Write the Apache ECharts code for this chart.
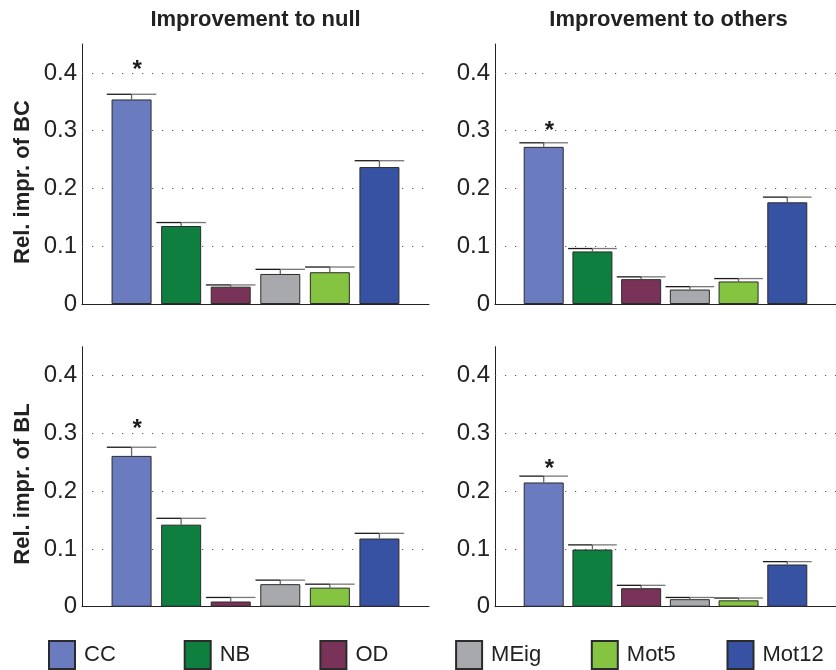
<!DOCTYPE html>
<html>
<head>
<meta charset="utf-8">
<script src="https://cdn.jsdelivr.net/npm/echarts@6/dist/echarts.min.js"></script>
<style>
  html, body { margin: 0; padding: 0; background: #fff; }
  #chart { width: 836px; height: 670px; }
</style>
</head>
<body>
<div id="chart"></div>
<script>
// Methods compared and their colours
const methods = ['CC', 'NB', 'OD', 'MEig', 'Mot5', 'Mot12'];
const methodColors = ['#6a7bbf', '#0e7f3e', '#7a3358', '#a7a9ac', '#84c441', '#3852a3'];

// Relative improvement of BC (mean and upper error)
const bcNull = [0.354, 0.135, 0.030, 0.052, 0.055, 0.237];
const bcNullErr = [0.009, 0.006, 0.003, 0.008, 0.009, 0.011];
const bcOthers = [0.272, 0.091, 0.043, 0.025, 0.039, 0.176];
const bcOthersErr = [0.007, 0.005, 0.004, 0.005, 0.005, 0.009];

// Relative improvement of BL (mean and upper error)
const blNull = [0.261, 0.142, 0.009, 0.039, 0.033, 0.118];
const blNullErr = [0.015, 0.011, 0.007, 0.007, 0.006, 0.009];
const blOthers = [0.215, 0.099, 0.032, 0.013, 0.011, 0.073];
const blOthersErr = [0.011, 0.008, 0.005, 0.003, 0.004, 0.005];

// Height of the significance marker above CC in each panel
const starLevel = [0.413, 0.308, 0.316, 0.246];

// Axis ticks and labels
const yTicks = [0.1, 0.2, 0.3, 0.4];
const colTitles = ['Improvement to null', 'Improvement to others'];
const rowLabels = ['Rel. impr. of BC', 'Rel. impr. of BL'];

const FONT = '"Liberation Sans", Arial, Helvetica, sans-serif';
const categories = [''].concat(methods, ['']);

const panels = [
  { values: bcNull, errors: bcNullErr, star: starLevel[0], left: 82, top: 44 },
  { values: bcOthers, errors: bcOthersErr, star: starLevel[1], left: 495, top: 44 },
  { values: blNull, errors: blNullErr, star: starLevel[2], left: 82, top: 346.7 },
  { values: blOthers, errors: blOthersErr, star: starLevel[3], left: 495, top: 346.7 }
];
const PANEL_W = 347, PANEL_H = 260;

const grid = [], xAxis = [], yAxis = [], series = [];

panels.forEach((p, pi) => {
  grid.push({ left: p.left, top: p.top, width: PANEL_W, height: PANEL_H, containLabel: false });
  xAxis.push({
    type: 'category', gridIndex: pi, data: categories, boundaryGap: false,
    axisLine: { show: true, lineStyle: { color: '#222', width: 1 } },
    axisTick: { show: false }, axisLabel: { show: false }, splitLine: { show: false }
  });
  yAxis.push({
    type: 'value', gridIndex: pi, min: 0, max: 0.45, interval: 0.1,
    axisLine: { show: true, lineStyle: { color: '#222', width: 1 } },
    axisTick: { show: false },
    splitLine: { show: false },
    axisLabel: {
      showMaxLabel: false, fontSize: 24, color: '#222', fontFamily: FONT, margin: 5,
      formatter: v => (v > 0.41 ? '' : String(+v.toFixed(2)))
    }
  });

  // one bar series per method, overlapped at the same slot
  methods.forEach((m, i) => {
    const s = {
      name: m, type: 'bar', xAxisIndex: pi, yAxisIndex: pi,
      barWidth: 40, barGap: '-100%', z: 2,
      itemStyle: { color: methodColors[i], borderColor: '#2b2b2b', borderWidth: 1 },
      emphasis: { disabled: true },
      data: categories.map((c, k) => (k === i + 1 ? p.values[i] : '-'))
    };
    if (i === 0) {
      s.markLine = {
        silent: true, symbol: ['none', 'none'], z: 1,
        label: { show: false },
        lineStyle: { color: '#555', width: 1, type: [1.2, 8.8] },
        data: yTicks.map(t => ({ yAxis: t }))
      };
    }
    series.push(s);
  });

  // upward error bars
  series.push({
    type: 'custom', xAxisIndex: pi, yAxisIndex: pi, z: 3, silent: true,
    data: p.values.map((v, i) => [i + 1, v, p.errors[i]]),
    renderItem: (params, api) => {
      const idx = api.value(0), v = api.value(1), e = api.value(2);
      const base = api.coord([idx, v]);
      const tip = api.coord([idx, v + e]);
      const half = api.size([1, 0])[0] / 2;
      return {
        type: 'group',
        children: [
          { type: 'line', shape: { x1: base[0], y1: base[1], x2: tip[0], y2: tip[1] },
            style: { stroke: '#666', lineWidth: 1.3 } },
          { type: 'line', shape: { x1: tip[0] - half, y1: tip[1], x2: tip[0], y2: tip[1] },
            style: { stroke: '#1a1a1a', lineWidth: 1.3 } },
          { type: 'line', shape: { x1: tip[0], y1: tip[1], x2: tip[0] + half, y2: tip[1] },
            style: { stroke: '#777', lineWidth: 1.3 } }
        ]
      };
    }
  });

  // significance marker above CC
  series.push({
    type: 'custom', xAxisIndex: pi, yAxisIndex: pi, z: 4, silent: true,
    data: [[1, p.star]],
    renderItem: (params, api) => {
      const pt = api.coord([api.value(0), api.value(1)]);
      return {
        type: 'text',
        style: {
          x: pt[0] + 5.7, y: pt[1] + 5, text: '*', fill: '#1a1a1a',
          font: 'bold 24px ' + FONT, textAlign: 'center', textVerticalAlign: 'middle'
        }
      };
    }
  });
});

// one legend box per method, evenly spaced
const legend = methods.map((m, i) => ({
  data: [m], left: 48 + i * 135.7, top: 640, orient: 'horizontal', padding: 0,
  itemWidth: 26, itemHeight: 28, itemGap: 0, icon: 'rect', selectedMode: false,
  textStyle: { fontSize: 22, color: '#222', fontFamily: FONT, padding: [0, 0, 0, 4] }
}));

const graphic = [];
colTitles.forEach((t, i) => {
  graphic.push({
    type: 'text', x: [255.5, 668.5][i], y: 20,
    style: { text: t, font: 'bold 22px ' + FONT, fill: '#222', textAlign: 'center', textVerticalAlign: 'middle' }
  });
});
rowLabels.forEach((t, i) => {
  graphic.push({
    type: 'text', x: 23, y: [182, 484][i], rotation: Math.PI / 2,
    style: { text: t, font: 'bold 22px ' + FONT, fill: '#222', textAlign: 'center', textVerticalAlign: 'middle' }
  });
});

const chart = echarts.init(document.getElementById('chart'), null, { renderer: 'canvas' });
chart.setOption({
  backgroundColor: '#fff',
  animation: false,
  grid, xAxis, yAxis, series, legend, graphic
});
</script>
</body>
</html>
